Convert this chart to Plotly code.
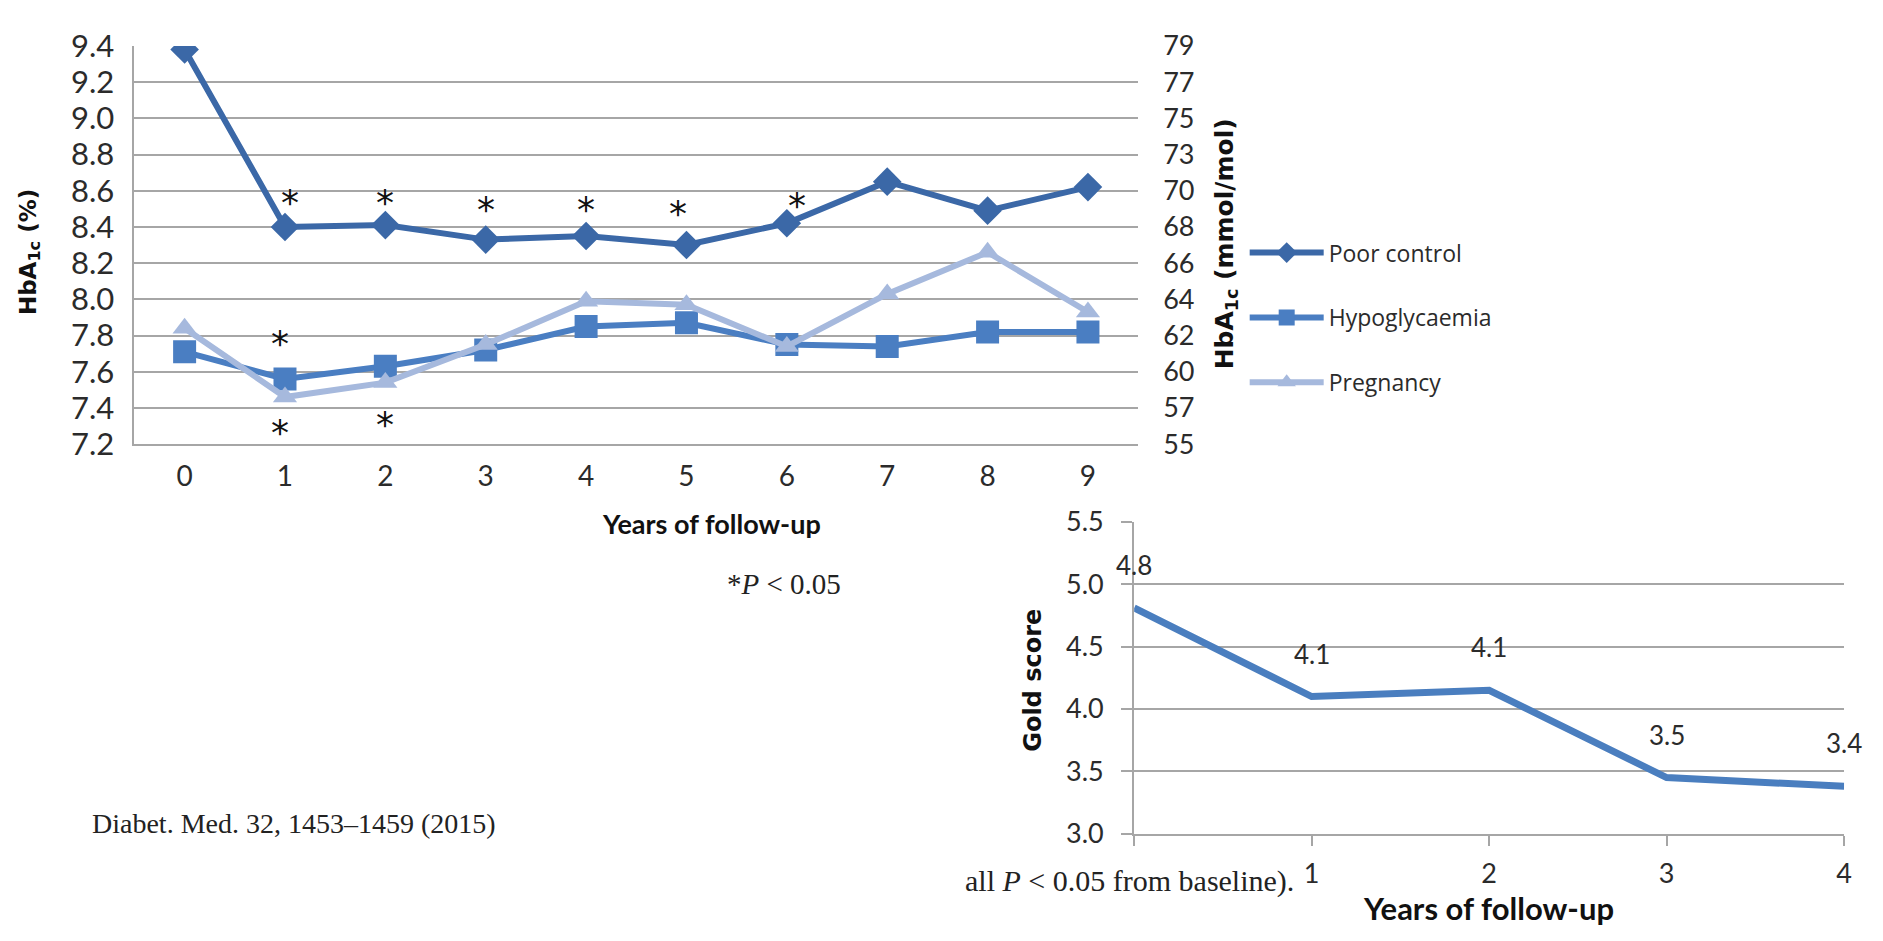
import plotly.graph_objects as go

W, H = 1883, 941

# ---------------- data ----------------
years = [0, 1, 2, 3, 4, 5, 6, 7, 8, 9]
poor_control = [9.38, 8.40, 8.41, 8.33, 8.35, 8.30, 8.42, 8.65, 8.49, 8.62]
hypoglycaemia = [7.71, 7.56, 7.63, 7.72, 7.85, 7.87, 7.75, 7.74, 7.82, 7.82]
pregnancy = [7.84, 7.46, 7.54, 7.75, 7.99, 7.97, 7.74, 8.03, 8.26, 7.93]

pct_ticks = [9.4, 9.2, 9.0, 8.8, 8.6, 8.4, 8.2, 8.0, 7.8, 7.6, 7.4, 7.2]
mmol_labels = ["79", "77", "75", "73", "70", "68", "66", "64", "62", "60", "57", "55"]

star_x = [1.05, 2.0, 3.0, 4.0, 4.92, 6.1, 0.95, 0.95, 2.0]
star_y = [8.58, 8.58, 8.54, 8.54, 8.52, 8.56, 7.80, 7.31, 7.35]

gold_years = [0, 1, 2, 3, 4]
gold_tick_labels = ["", "1", "2", "3", "4"]   # the "0" is hidden under the caption in the source
gold_score = [4.81, 4.10, 4.15, 3.45, 3.38]
gold_labels = ["4.8", "4.1", "4.1", "3.5", "3.4"]
gold_ticks = [3.0, 3.5, 4.0, 4.5, 5.0, 5.5]

# ---------------- style ----------------
C_POOR = "#3b68a7"
C_HYPO = "#4a7ec2"
C_PREG = "#a6b9dd"
C_GOLD = "#4a7ebf"
GRID = "#a6a6a6"
TXT = "#2b2b2b"
SANS = "Lato"
WIDE = "Open Sans"
VERD = "DejaVu Sans"
SERIF = "Liberation Serif"


def px(x):
    return x / W


def py(y):
    return 1 - y / H


fig = go.Figure()

fig.add_trace(go.Scatter(
    x=years, y=poor_control, name="Poor control", mode="lines+markers",
    line=dict(color=C_POOR, width=6),
    marker=dict(symbol="diamond", size=22, color=C_POOR),
    xaxis="x", yaxis="y", legendgroup="a"))
fig.add_trace(go.Scatter(
    x=years, y=hypoglycaemia, name="Hypoglycaemia", mode="lines+markers",
    line=dict(color=C_HYPO, width=6),
    marker=dict(symbol="square", size=23, color=C_HYPO),
    xaxis="x", yaxis="y", legendgroup="b"))
fig.add_trace(go.Scatter(
    x=years, y=pregnancy, name="Pregnancy", mode="lines+markers",
    line=dict(color=C_PREG, width=6),
    marker=dict(symbol="triangle-up", size=21, color=C_PREG),
    xaxis="x", yaxis="y", legendgroup="c"))
# empty trace so the right-hand mmol/mol axis is drawn
fig.add_trace(go.Scatter(x=[], y=[], xaxis="x", yaxis="y2", showlegend=False,
                         hoverinfo="skip"))

fig.add_trace(go.Scatter(
    x=gold_years, y=gold_score, mode="lines", showlegend=False,
    line=dict(color=C_GOLD, width=7),
    xaxis="x2", yaxis="y3"))

annotations = []
for sx, sy in zip(star_x, star_y):
    annotations.append(dict(x=sx, y=sy, xref="x", yref="y", text="*", showarrow=False,
                            xanchor="center", yanchor="middle",
                            font=dict(family=VERD, size=36, color="#111111"),
                            yshift=-8))
for gx, gy, gl in zip(gold_years, gold_score, gold_labels):
    annotations.append(dict(x=gx, y=gy, xref="x2", yref="y3", text=gl, showarrow=False,
                            xanchor="center", yanchor="middle",
                            font=dict(family=SANS, size=26, color=TXT), yshift=43))


def note(x, y, text, font, angle=0, xanchor="center"):
    return dict(x=px(x), y=py(y), xref="paper", yref="paper", text=text,
                textangle=angle, showarrow=False, xanchor=xanchor, yanchor="middle",
                font=font)


annotations += [
    note(30, 242, "<b>HbA<sub>1c</sub> (%)</b>",
         dict(family=VERD, size=23, color="#111111"), angle=-90),
    note(1231, 233, "<b>HbA<sub>1c</sub> (mmol/mol)</b>",
         dict(family=VERD, size=25, color="#111111"), angle=-90),
    note(715, 525, "<b>Years of follow-up</b>",
         dict(family=SANS, size=27, color="#111111")),
    note(787, 588, "*<i>P</i> < 0.05",
         dict(family=SERIF, size=29, color="#222222")),
    note(90, 837, "Diabet. Med. 32, 1453–1459 (2015)",
         dict(family=SERIF, size=28, color="#222222"), xanchor="left"),
    note(1038, 688, "<b>Gold score</b>",
         dict(family=VERD, size=24, color="#111111"), angle=-90),
    note(1495, 925, "<b>Years of follow-up</b>",
         dict(family=SANS, size=31, color="#111111")),
    note(967, 897, "all <i>P</i> < 0.05 from baseline).",
         dict(family=SERIF, size=30, color="#222222"), xanchor="left"),
]

fig.update_layout(
    width=W, height=H,
    margin=dict(l=0, r=0, t=0, b=0),
    paper_bgcolor="white", plot_bgcolor="white",
    showlegend=True,
    legend=dict(x=px(1250), y=py(220), xanchor="left", yanchor="top",
                font=dict(family=WIDE, size=23, color=TXT),
                tracegroupgap=32, itemwidth=74, bgcolor="rgba(0,0,0,0)"),
    xaxis=dict(domain=[px(135), px(1143)], range=[-0.5, 9.5], anchor="y",
               tickmode="array", tickvals=years, ticktext=[str(v) for v in years],
               showgrid=False, showline=True, linecolor=GRID, linewidth=2,
               ticks="", tickfont=dict(family=SANS, size=28, color=TXT),
               ticklabelstandoff=6, zeroline=False),
    yaxis=dict(domain=[py(442), py(27)], range=[7.2, 9.4], anchor="x",
               tickmode="array", tickvals=pct_ticks, ticktext=[f"{v:.1f}" for v in pct_ticks],
               showgrid=True, gridcolor=GRID, gridwidth=2,
               showline=True, linecolor=GRID, linewidth=2, ticks="",
               tickfont=dict(family=SANS, size=31, color=TXT), ticklabelstandoff=12,
               zeroline=False),
    yaxis2=dict(range=[7.2, 9.4], overlaying="y", side="right", anchor="x",
                tickmode="array", tickvals=pct_ticks, ticktext=mmol_labels,
                showgrid=False, showline=False, ticks="",
                tickfont=dict(family=SANS, size=27, color=TXT), ticklabelstandoff=24,
                zeroline=False),
    xaxis2=dict(domain=[px(1139), px(1852)], range=[0, 4], anchor="y3",
                tickmode="array", tickvals=gold_years, ticktext=gold_tick_labels,
                showgrid=False, showline=True, linecolor=GRID, linewidth=2,
                ticks="outside", ticklen=10, tickcolor=GRID, tickwidth=2,
                tickfont=dict(family=SANS, size=27, color=TXT), ticklabelstandoff=5,
                zeroline=False),
    yaxis3=dict(domain=[py(848), py(523)], range=[3.0, 5.5], anchor="x2",
                tickmode="array", tickvals=gold_ticks,
                ticktext=[f"{v:.1f}" for v in gold_ticks],
                showgrid=True, gridcolor=GRID, gridwidth=2,
                showline=True, linecolor=GRID, linewidth=2,
                ticks="outside", ticklen=11, tickcolor=GRID, tickwidth=2,
                tickfont=dict(family=SANS, size=27, color=TXT), ticklabelstandoff=12,
                zeroline=False),
    annotations=annotations,
)

fig.write_html("out.html")
